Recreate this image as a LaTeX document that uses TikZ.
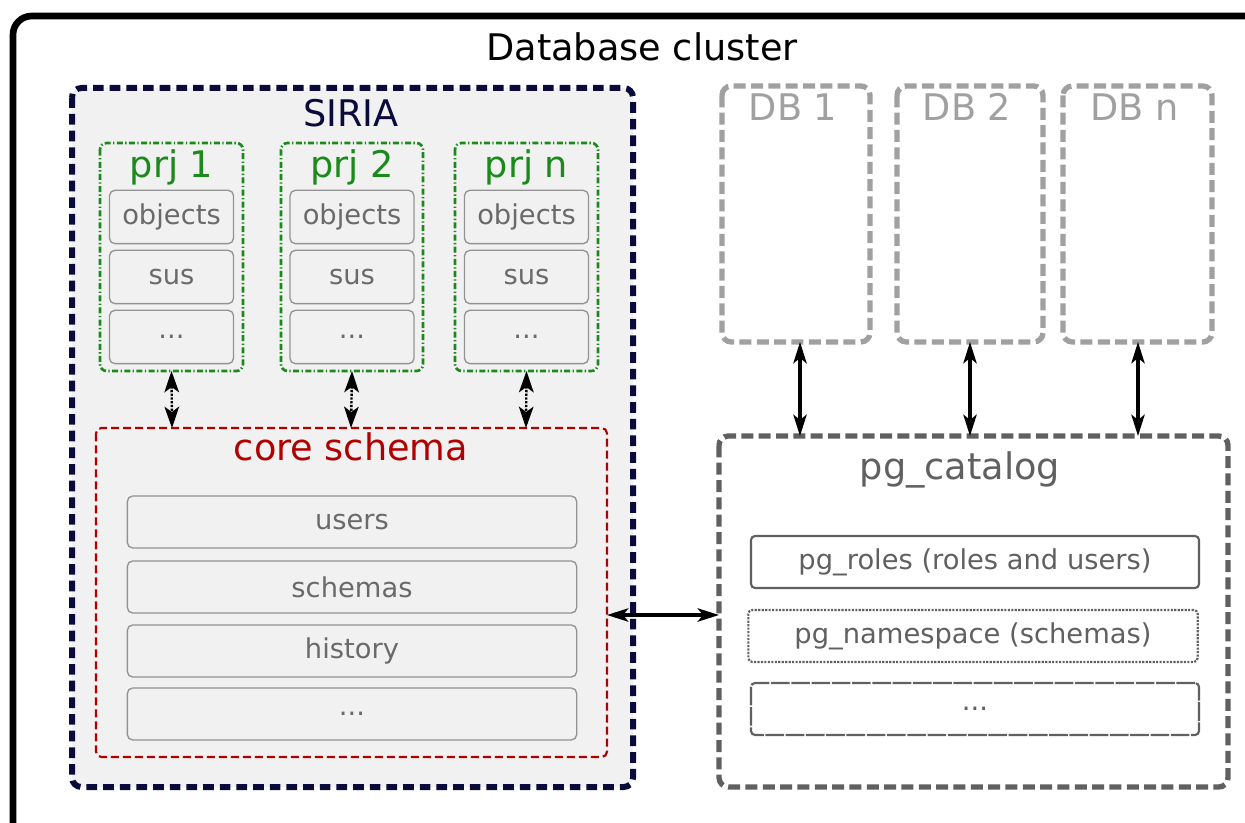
\documentclass[tikz,border=0pt]{standalone}
\usepackage{fontspec}
\setmainfont{DejaVu Sans}
\usetikzlibrary{arrows.meta}
\definecolor{navy}{HTML}{0B0B3B}
\definecolor{prjgreen}{HTML}{1A8A1A}
\definecolor{corered}{HTML}{B00000}
\definecolor{bggray}{HTML}{F1F1F1}
\definecolor{txtgray}{HTML}{6A6A6A}
\definecolor{dbgray}{HTML}{A0A0A0}
\definecolor{catgray}{HTML}{606060}
\newcommand{\mydots}{...}
\tikzset{
  px/.style={x=0.75pt,y=-0.75pt},
  bigtxt/.style={font=\fontsize{27.5}{30}\selectfont},
  smalltxt/.style={font=\fontsize{20.5}{24}\selectfont},
  siriabox/.style={draw=navy,line width=4.5pt,dash pattern=on 8pt off 4.5pt,rounded corners=7pt,fill=bggray},
  prjbox/.style={draw=prjgreen,line width=2pt,dash pattern=on 4.5pt off 1.8pt on 1pt off 1.8pt,rounded corners=5pt},
  itembox/.style={draw=gray!85,line width=1pt,rounded corners=4pt,fill=bggray},
  corebox/.style={draw=corered,line width=1.6pt,dash pattern=on 6pt off 3pt,rounded corners=4pt},
  dbbox/.style={draw=dbgray,line width=4pt,dash pattern=on 9pt off 4pt,rounded corners=7pt},
  catbox/.style={draw=catgray,line width=4pt,dash pattern=on 9pt off 4pt,rounded corners=7pt},
  pgitem/.style={draw=catgray,line width=1.6pt,rounded corners=3pt,fill=white},
  dotarrow/.style={{Stealth[length=16pt,width=11pt,inset=4pt]}-{Stealth[length=16pt,width=11pt,inset=4pt]},line width=1.8pt,densely dotted,black},
  solidarrow/.style={{Stealth[length=16pt,width=10pt,inset=4pt]}-{Stealth[length=16pt,width=10pt,inset=4pt]},line width=2.4pt,black},
}
\begin{document}
\begin{tikzpicture}[px]
\useasboundingbox (0,0) rectangle (1245,823);
\clip (0,0) rectangle (1245,823);
\fill[white] (0,0) rectangle (1245,823);
% outer frame
\draw[line width=5pt,rounded corners=14pt] (13,840) -- (13,16) -- (1265,16);
\node[bigtxt,black] (title) at (642,47) {Database cluster};

% SIRIA
\draw[siriabox] (72,88) rectangle (633,787);
\node[bigtxt,text=navy] (siria) at (351,113) {SIRIA};

% project boxes
\foreach \nm/\xa/\xb/\lab in {p1/100/243/prj 1, p2/281/423/prj 2, pn/455/598/prj n}{
  \draw[prjbox] (\xa,143) rectangle (\xb,371);
  \coordinate (\nm-b) at ({(\xa+\xb)/2},371);
  \node[bigtxt,text=prjgreen] (\nm-t) at ({(\xa+\xb)/2},167) {\lab};
  \node[itembox,smalltxt,text=txtgray,minimum width=93pt,minimum height=40pt,inner sep=0pt] (\nm-o) at ({(\xa+\xb)/2},217) {objects};
  \node[itembox,smalltxt,text=txtgray,minimum width=93pt,minimum height=40pt,inner sep=0pt] (\nm-s) at ({(\xa+\xb)/2},277) {sus};
  \node[itembox,smalltxt,text=txtgray,minimum width=93pt,minimum height=40pt,inner sep=0pt] (\nm-d) at ({(\xa+\xb)/2},337) {\mydots};
}

% core schema
\draw[corebox] (96,428) rectangle (607,757);
\coordinate (core-r) at (607,615);
\node[bigtxt,text=corered] (coret) at (351,447) {core schema};
\foreach \nm/\y/\lab in {cu/522/users, cs/587/schemas, ch/651/history, cd/714/\mydots}{
  \node[itembox,smalltxt,text=txtgray,minimum width=337pt,minimum height=39pt,inner sep=0pt] (\nm) at (352,\y) {\lab};
}
\coordinate (c1) at (172,428);
\coordinate (c2) at (351,428);
\coordinate (c3) at (526,428);
\draw[dotarrow] (p1-b) -- (c1);
\draw[dotarrow] (p2-b) -- (c2);
\draw[dotarrow] (pn-b) -- (c3);

% DB boxes
\foreach \nm/\xa/\xb/\lab in {db1/722/870/DB 1, db2/897/1043/DB 2, dbn/1063/1212/DB n}{
  \draw[dbbox] (\xa,86) rectangle (\xb,342);
  \node[bigtxt,text=dbgray] (\nm-t) at ({(\xa+\xb)/2-3},107) {\lab};
}
\coordinate (db1-b) at (800,342);
\coordinate (db2-b) at (970,342);
\coordinate (dbn-b) at (1138,342);

% pg_catalog
\draw[catbox] (719,436) rectangle (1228,787);
\node[bigtxt,text=catgray] (catt) at (960,470) {pg\_catalog};
\coordinate (cat-l) at (719,615);
\coordinate (k1) at (800,436);
\coordinate (k2) at (970,436);
\coordinate (k3) at (1138,436);
\node[pgitem,smalltxt,text=catgray,minimum width=336pt,minimum height=39pt,inner sep=0pt] (roles) at (975,562) {pg\_roles (roles and users)};
\node[pgitem,smalltxt,text=catgray,minimum width=337pt,minimum height=39pt,inner sep=0pt,densely dotted] (ns) at (973,636) {pg\_namespace (schemas)};
\node[pgitem,smalltxt,text=catgray,minimum width=336pt,minimum height=39pt,inner sep=0pt,dash pattern=on 14pt off 1.2pt] (pgd) at (975,709) {\mydots};

\draw[solidarrow] (db1-b) -- (k1);
\draw[solidarrow] (db2-b) -- (k2);
\draw[solidarrow] (dbn-b) -- (k3);
\draw[solidarrow] (core-r) -- (cat-l);
\end{tikzpicture}
\end{document}
